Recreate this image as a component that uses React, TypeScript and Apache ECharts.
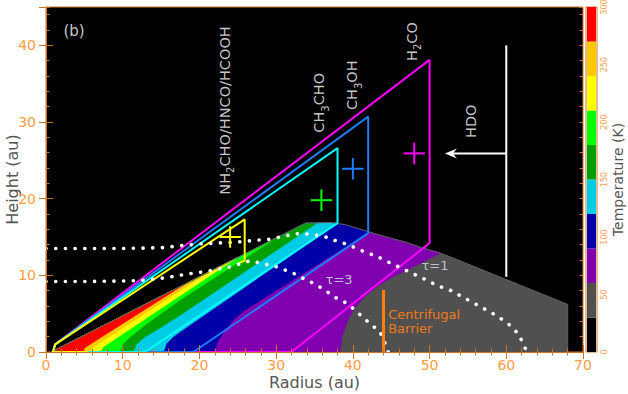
import React, { useEffect, useRef } from "react";
import * as echarts from "echarts";

const FONT = "'DejaVu Sans', sans-serif";
const AXIS_COLOR = "#CC7424";
const TICK_LABEL_COLOR = "#FF9D45";
const TITLE_COLOR = "#555555";
const INNER_TEXT = "#C8C8C8";

// axes ranges
const xRange = [0, 70];
const yRange = [0, 45];
const xStep = 10;
const yStep = 10;
const minorStep = 2;

// temperature colour scale (K)
const tempEdges = [0, 30, 60, 90, 120, 150, 180, 210, 240, 270, 300];
const tempColors = ["#000000", "#505050", "#8000B0", "#0000A8", "#00CCE6", "#00A000", "#00FF00", "#FFFF00", "#FFC800", "#FF0000"];
const colorbarStep = 50;

// disk surface (radius, height) in au
const diskSurface = [[0.7, 0], [33.8, 16.8], [37, 16.9], [39, 16.6], [42, 15.7], [44, 15.1], [46.6, 14.4], [49, 13.6], [51.4, 12.9], [52.7, 12.4], [68, 6.2], [68, 0]];

// isotherms, from the midplane up to the disk surface
const iso60 = [[38.3, 0], [38.6, 2], [39.3, 4], [40.1, 5.5], [41.5, 7.2], [43.1, 8.5], [45, 9.7], [47.5, 10.9], [51.4, 12.9]];
const iso90 = [[22, 0], [22.3, 1.2], [23.1, 2.5], [24.5, 4.3], [26, 5.5], [42.2, 15.7]];
const iso120 = [[15.3, 0], [15.7, 1.1], [16.6, 2.0], [17.5, 2.65], [38, 16.8]];
const iso150 = [[11.4, 0], [11.8, 1.0], [12.8, 1.9], [14.5, 2.9], [17.5, 4.8], [35.3, 16.8]];
const iso180 = [[9.6, 0], [10, 1.0], [11, 2.0], [13, 3.6], [17.5, 6.8], [30, 14.87]];
const iso210 = [[7.0, 0], [7.5, 0.7], [24.9, 12.28]];
const iso240 = [[5.7, 0], [6.1, 0.6], [21.2, 10.41]];
const iso270 = [[4.8, 0], [5.1, 0.6], [18, 8.78]];

// molecular emitting regions
const h2coRegion = [[0.9, 0], [1.2, 1.0], [50, 38.1], [50, 14.2], [32, 0], [0.9, 0]];
const ch3ohRegion = [[0.9, 0], [1.2, 1.0], [42, 30.7], [42, 15.5], [19.2, 0], [0.9, 0]];
const ch3choRegion = [[0.9, 0], [1.2, 1.0], [38, 26.6], [38, 16.8], [12.9, 0], [0.9, 0]];
const nh2choRegion = [[5.5, 0], [0.9, 0], [1.2, 1.0], [25.9, 17.3], [25.9, 11.9], [25.1, 11.6]];

// positions with error bars
const crossX = [24.0, 35.9, 40.0, 48.0];
const crossY = [15.0, 19.8, 23.9, 25.9];
const crossErr = [1.4, 1.4, 1.4, 1.4];
const crossColors = ["#FFFF00", "#00FF00", "#1E7CFF", "#FF00FF"];

// optical depth surfaces
const tau1 = [[0, 13.5], [5, 13.5], [10, 13.5], [15, 13.6], [17.9, 13.9], [20, 14.1], [22, 14.2], [24.4, 14.3], [27.7, 14.6], [29.2, 14.7], [30.5, 15.0], [32, 15.3], [33.3, 15.5], [34.6, 15.3], [36.2, 15.1], [37.5, 14.6], [39.4, 14.0], [40.7, 13.4], [42, 12.9], [43.3, 12.4], [44.9, 11.6], [46.6, 10.8], [48.3, 10.0], [49.6, 9.4], [50.9, 8.7], [52, 8.3], [53.1, 7.9], [54.2, 7.2], [55.4, 6.6], [56.6, 5.9], [57.8, 5.3], [59.1, 4.5], [60.3, 3.65], [61.6, 2.35], [62.7, 0]];
const tau3 = [[0, 9.2], [5, 9.2], [10, 9.25], [11.4, 9.3], [13, 9.4], [15.7, 9.7], [18.6, 10.2], [20.1, 10.4], [21.4, 10.6], [22.9, 10.9], [24.0, 11.1], [25.3, 11.5], [26.6, 11.9], [27.9, 11.6], [29.2, 11.3], [30.1, 11.1], [31.4, 10.6], [32.2, 10.3], [33.3, 9.7], [34.2, 9.3], [36.2, 8.2], [37.7, 7.1], [38.8, 6.6], [39.9, 5.8], [40.5, 5.2], [41.4, 4.5], [42.2, 3.7], [43.5, 2.7], [44.4, 0.7], [44.6, 0]];

// HDO marker and centrifugal barrier
const hdoStem = [[60, 40], [60, 9.8]];
const hdoArrow = [[60, 25.9], [52.8, 25.9]];
const hdoArrowTip = [52.0, 25.9];
const centrifugalBarrier = [[44, 0], [44, 8.1]];

// text annotations
const labelTexts = ["(b)", "{n|NH}{s|2}{n|CHO/HNCO/HCOOH}", "{n|CH}{s|3}{n|CHO}", "{n|CH}{s|3}{n|OH}", "{n|H}{s|2}{n|CO}", "{n|HDO}", "{t|τ=3}", "{t|τ=1}", "{c|Centrifugal}\n{c|Barrier}"];
const labelX = [3.65, 23.3, 35.6, 39.9, 47.7, 55.4, 38.2, 50.7, 44.6];
const labelY = [41.9, 31.5, 32.5, 34.8, 40.5, 30.1, 9.4, 11.25, 4.0];
const labelRotated = [false, true, true, true, true, true, false, false, false];

const isotherms = [iso60, iso90, iso120, iso150, iso180, iso210, iso240, iso270];

function regionAbove(boundary: number[][]): number[][] {
  const meet = boundary[boundary.length - 1];
  const back = diskSurface.filter((p) => p[0] < meet[0]).slice().reverse();
  return [...boundary, ...back];
}

const regions: number[][][] = [diskSurface, ...isotherms.map(regionAbove)];
const regionColors = tempColors.slice(1);

function lineSeries(data: number[][], color: string, width: number, extra: any = {}) {
  return {
    type: "line",
    data,
    symbol: "none",
    showSymbol: false,
    silent: true,
    z: 4,
    lineStyle: { color, width, ...extra },
    clip: false,
  };
}

function buildOption() {
  const baseX = {
    type: "value",
    min: xRange[0],
    max: xRange[1],
    interval: xStep,
    gridIndex: 0,
    z: 10,
    axisLine: { show: true, lineStyle: { color: AXIS_COLOR, width: 1 } },
    axisTick: { show: true, inside: true, length: 7, lineStyle: { color: AXIS_COLOR } },
    minorTick: { show: true, splitNumber: xStep / minorStep, length: 3.5, lineStyle: { color: AXIS_COLOR } },
    splitLine: { show: false },
  };
  const baseY = {
    type: "value",
    min: yRange[0],
    max: yRange[1],
    interval: yStep,
    gridIndex: 0,
    z: 10,
    axisLine: { show: true, lineStyle: { color: AXIS_COLOR, width: 1 } },
    axisTick: { show: true, inside: true, length: 7, lineStyle: { color: AXIS_COLOR } },
    splitLine: { show: false },
  };
  const minorY = {
    type: "value",
    min: yRange[0],
    max: yRange[1],
    interval: minorStep,
    gridIndex: 0,
    z: 10,
    axisLine: { show: false },
    axisTick: { show: true, inside: true, length: 3.5, lineStyle: { color: AXIS_COLOR } },
    axisLabel: { show: false },
    splitLine: { show: false },
  };

  const series: any[] = [];

  series.push({
    type: "custom",
    xAxisIndex: 0,
    yAxisIndex: 0,
    silent: true,
    z: 2,
    clip: false,
    data: regions.map((r, i) => [r[0][0], r[0][1], i]),
    renderItem: (params: any, api: any) => {
      const i = params.dataIndex;
      return {
        type: "polygon",
        shape: { points: regions[i].map((p) => api.coord(p)) },
        style: { fill: regionColors[i], stroke: regionColors[i], lineWidth: 0.5 },
      };
    },
  });

  series.push(lineSeries(diskSurface, "#5c5c5c", 1, {}));

  series.push(lineSeries(h2coRegion, "#FF00FF", 2));
  series.push(lineSeries(ch3ohRegion, "#1E7CFF", 2));
  series.push(lineSeries(ch3choRegion, "#00FFFF", 2));
  series.push(lineSeries(nh2choRegion, "#FFFF00", 2));

  series.push(lineSeries(tau1, "#FFFFFF", 3.6, { type: [0.1, 9.6], cap: "round" }));
  series.push(lineSeries(tau3, "#FFFFFF", 3.6, { type: [0.1, 9.6], cap: "round" }));

  series.push(lineSeries(centrifugalBarrier, "#FF7F0E", 3));

  series.push(lineSeries(hdoStem, "#FFFFFF", 2));
  series.push(lineSeries(hdoArrow, "#FFFFFF", 2));
  series.push({
    type: "custom",
    silent: true,
    z: 5,
    clip: false,
    data: [hdoArrowTip],
    renderItem: (params: any, api: any) => {
      const p = api.coord(hdoArrowTip);
      return {
        type: "polygon",
        shape: { points: [[p[0], p[1]], [p[0] + 12, p[1] - 5], [p[0] + 8, p[1]], [p[0] + 12, p[1] + 5]] },
        style: { fill: "#FFFFFF" },
      };
    },
  });

  series.push({
    type: "custom",
    silent: true,
    z: 5,
    clip: false,
    data: crossX.map((x, i) => [x, crossY[i], crossErr[i]]),
    renderItem: (params: any, api: any) => {
      const i = params.dataIndex;
      const x = crossX[i], y = crossY[i], e = crossErr[i];
      const l = api.coord([x - e, y]), r = api.coord([x + e, y]);
      const b = api.coord([x, y - e]), t = api.coord([x, y + e]);
      const st = { stroke: crossColors[i], lineWidth: 2 };
      return {
        type: "group",
        children: [
          { type: "line", shape: { x1: l[0], y1: l[1], x2: r[0], y2: r[1] }, style: st },
          { type: "line", shape: { x1: b[0], y1: b[1], x2: t[0], y2: t[1] }, style: st },
        ],
      };
    },
  });

  const rich = {
    n: { fontSize: 14.5, lineHeight: 22, verticalAlign: "middle", fontFamily: FONT, fill: INNER_TEXT },
    s: { fontSize: 10, lineHeight: 11, verticalAlign: "bottom", fontFamily: FONT, fill: INNER_TEXT },
    t: { fontSize: 13, lineHeight: 16, fontFamily: FONT, fill: "#C0C0D0" },
    c: { fontSize: 13, lineHeight: 14.5, fontFamily: FONT, fill: "#F07A1A" },
  };
  series.push({
    type: "custom",
    silent: true,
    z: 6,
    clip: false,
    data: labelX.map((x, i) => [x, labelY[i]]),
    renderItem: (params: any, api: any) => {
      const i = params.dataIndex;
      const p = api.coord([labelX[i], labelY[i]]);
      const isBarrier = i === labelTexts.length - 1;
      return {
        type: "text",
        x: p[0],
        y: p[1],
        rotation: labelRotated[i] ? Math.PI / 2 : 0,
        style: {
          text: labelTexts[i],
          rich,
          fill: INNER_TEXT,
          fontSize: 15,
          fontFamily: FONT,
          align: isBarrier ? "left" : "center",
          verticalAlign: "middle",
        },
      };
    },
  });

  series.push({
    type: "custom",
    xAxisIndex: 2,
    yAxisIndex: 4,
    silent: true,
    z: 2,
    data: tempColors.map((c, i) => [0, tempEdges[i], tempEdges[i + 1]]),
    renderItem: (params: any, api: any) => {
      const i = params.dataIndex;
      const a = api.coord([0, tempEdges[i]]);
      const b = api.coord([1, tempEdges[i + 1]]);
      return {
        type: "rect",
        shape: { x: a[0] + 1, y: b[1], width: b[0] - a[0] - 2, height: a[1] - b[1] },
        style: { fill: tempColors[i] },
      };
    },
  });

  return {
    animation: false,
    backgroundColor: "#ffffff",
    grid: [
      { left: 46, top: 7, width: 537, height: 345, show: true, containLabel: false, outerBoundsMode: "none", backgroundColor: "#000000", borderColor: AXIS_COLOR, borderWidth: 1 },
      { left: 586, top: 7, width: 11, height: 345, show: true, containLabel: false, outerBoundsMode: "none", backgroundColor: "#ffffff", borderColor: AXIS_COLOR, borderWidth: 1 },
    ],
    xAxis: [
      {
        ...baseX,
        position: "bottom",
        axisLabel: { show: true, color: TICK_LABEL_COLOR, fontSize: 14, fontFamily: FONT, margin: 6 },
        name: "Radius (au)",
        nameLocation: "middle",
        nameGap: 22,
        nameMoveOverlap: false,
        nameTextStyle: { color: TITLE_COLOR, fontSize: 16, fontFamily: FONT },
      },
      { ...baseX, position: "top", axisLabel: { show: false } },
      { type: "value", gridIndex: 1, min: 0, max: 1, show: false },
    ],
    yAxis: [
      {
        ...baseY,
        position: "left",
        axisLabel: { show: true, color: TICK_LABEL_COLOR, fontSize: 14, fontFamily: FONT, margin: 10, showMaxLabel: false },
        name: "Height (au)",
        nameLocation: "middle",
        nameGap: 26,
        nameRotate: 90,
        nameMoveOverlap: false,
        nameTextStyle: { color: TITLE_COLOR, fontSize: 16, fontFamily: FONT },
      },
      { ...baseY, position: "right", axisLabel: { show: false } },
      { ...minorY, position: "left" },
      { ...minorY, position: "right" },
      {
        type: "value",
        gridIndex: 1,
        min: tempEdges[0],
        max: tempEdges[tempEdges.length - 1],
        interval: colorbarStep,
        position: "right",
        axisLine: { show: false },
        axisTick: { show: false },
        splitLine: { show: false },
        axisLabel: { show: true, rotate: 90, color: TICK_LABEL_COLOR, fontSize: 8, fontFamily: FONT, margin: 3 },
        name: "Temperature (K)",
        nameLocation: "middle",
        nameGap: 14,
        nameRotate: 90,
        nameMoveOverlap: false,
        nameTextStyle: { color: TITLE_COLOR, fontSize: 14, fontFamily: FONT },
      },
    ],
    series,
  };
}

export default function App() {
  const ref = useRef<HTMLDivElement>(null);
  useEffect(() => {
    document.body.style.margin = "0";
    const chart = echarts.init(ref.current as HTMLDivElement, null, { renderer: "svg" });
    chart.setOption(buildOption() as any);
    return () => chart.dispose();
  }, []);
  return <div ref={ref} style={{ position: "absolute", left: 0, top: 0, width: 628, height: 394 }} />;
}
